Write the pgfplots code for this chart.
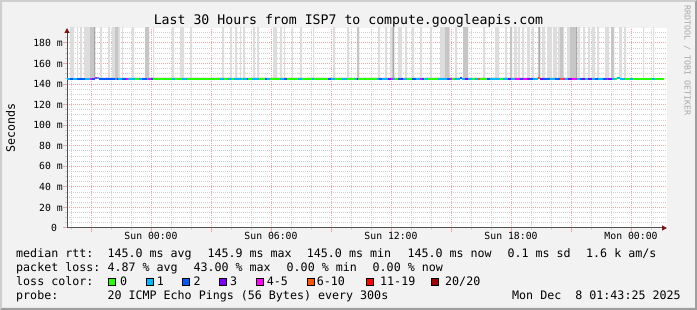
\documentclass[border=0pt]{standalone}
\usepackage{pgfplots}
\pgfplotsset{compat=1.18}
\usepackage{fontspec}
\setmainfont{DejaVu Sans Mono}
\setmonofont{DejaVu Sans Mono}
\usetikzlibrary{arrows.meta}
\definecolor{bgc}{HTML}{F2F2F2}
\definecolor{shadeA}{HTML}{CFCFCF}
\definecolor{shadeB}{HTML}{9E9E9E}
\definecolor{gridmin}{HTML}{D0D0D0}
\definecolor{gridmaj}{HTML}{EBA6A6}
\definecolor{arrowred}{HTML}{7F1515}
\definecolor{axisc}{HTML}{505050}
\definecolor{smokeL}{HTML}{DDDDDD}
\definecolor{smokeD}{HTML}{C6C6C6}
\definecolor{smokeX}{HTML}{A8A8A8}
\definecolor{lc0}{HTML}{26FF00}
\definecolor{lc1}{HTML}{00B8FF}
\definecolor{lc2}{HTML}{0059FF}
\definecolor{lc3}{HTML}{7E00FF}
\definecolor{lc4}{HTML}{FF00FF}
\definecolor{lc6}{HTML}{FF5500}
\definecolor{lc11}{HTML}{FF0000}
\definecolor{lc20}{HTML}{A10000}
\definecolor{rrdtxt}{HTML}{A8A8A8}
\newcommand{\lgfont}{\fontsize{11.66}{13}\selectfont}
\newcommand{\tkfont}{\fontsize{9.8}{11}\selectfont}
\begin{document}
\begin{tikzpicture}[x=1pt,y=1pt]
\fill[bgc] (0,0) rectangle (697,310);
\fill[shadeA] (0,0) -- (0,310) -- (697,310) -- (695,308) -- (2,308) -- (2,2) -- cycle;
\fill[shadeB] (0,0) -- (697,0) -- (697,310) -- (695,308) -- (695,2) -- (2,2) -- cycle;
\begin{axis}[
  at={(67pt,82pt)}, anchor=south west, scale only axis,
  width=600pt, height=200pt,
  xmin=-4.2, xmax=25.8, ymin=0, ymax=194.6,
  enlargelimits=false,
  axis x line=bottom, axis y line=left,
  axis line style={axisc, line width=1pt, -{Triangle[width=5pt,length=5pt,color=arrowred]}},
  axis background/.style={fill=white},
  xtick={-3,0,3,6,9,12,15,18,21,24},
  xticklabels={,Sun 00:00,,Sun 06:00,,Sun 12:00,,Sun 18:00,,Mon 00:00},
  minor xtick={-4,-3,...,25},
  ytick={0,20,...,180},
  yticklabels={0\phantom{m},20 m,40 m,60 m,80 m,100 m,120 m,140 m,160 m,180 m},
  minor ytick={5,10,...,190},
  grid=both,
  major grid style={gridmaj, dash pattern=on 1pt off 1pt, line width=1pt},
  minor grid style={gridmin, dash pattern=on 1pt off 1pt, line width=1pt},
  tick align=outside, major tick length=4pt, minor tick length=2pt,
  major tick style={gridmaj, line width=1pt},
  minor tick style={gridmin, line width=1pt},
  xticklabel style={font=\tkfont, inner sep=0pt, anchor=north},
  yticklabel style={font=\tkfont, inner sep=0pt, anchor=east},
]
% smoke (spread of the 20 pings), step function of smoke top
\addplot[const plot, fill=smokeL, draw=none] coordinates {
(-4.05,146)(-4.05,200)(-3.85,146)(-3.7,200)(-3.65,146)(-3.55,200)(-3.45,146)(-3.35,200)(-2.8,146)(-2.55,200)(-2.45,146)(-2.15,200)(-2.05,146)(-1.95,200)(-1.55,146)(-1.45,200)(-1.4,146)(-0.95,200)(-0.85,146)(-0.3,200)(-0.1,146)(0.1,200)(0.15,146)(1.05,200)(1.15,146)(1.45,200)(1.65,146)(1.95,200)(2.05,146)(3.55,200)(3.65,146)(3.95,200)(4.05,146)(4.2,200)(4.3,146)(4.45,200)(4.5,146)(4.6,200)(4.7,146)(5.1,200)(5.2,146)(5.3,200)(5.4,146)(6.1,200)(6.3,146)(6.45,200)(6.55,146)(6.65,200)(6.7,146)(7.05,200)(7.1,146)(7.45,200)(7.55,146)(8.1,200)(8.15,146)(9.1,200)(9.2,146)(9.8,200)(9.9,146)(10.3,200)(10.4,146)(11.35,200)(11.45,146)(11.7,200)(11.8,146)(11.95,200)(12.15,146)(12.35,200)(12.55,146)(12.7,200)(12.8,146)(13.05,200)(13.15,146)(13.45,200)(13.55,146)(13.95,200)(14.05,146)(14.45,200)(14.95,146)(15.2,200)(15.3,146)(15.6,200)(15.85,146)(16.6,200)(16.7,146)(17.2,200)(17.4,146)(17.7,200)(17.8,146)(17.95,200)(18.05,146)(18.15,200)(18.3,146)(18.35,200)(18.45,146)(18.55,200)(18.65,146)(18.8,200)(18.95,146)(19.05,200)(19.15,146)(19.35,200)(19.45,146)(19.55,200)(19.7,146)(19.8,200)(20.05,146)(20.1,200)(20.3,146)(20.35,200)(20.65,146)(20.8,200)(21.3,146)(21.35,200)(21.45,146)(21.6,200)(21.7,146)(21.85,200)(21.95,146)(22.05,200)(22.2,146)(22.3,200)(22.4,146)(22.7,200)(22.9,146)(23.0,200)(23.15,146)(23.4,200)(23.55,146)(23.65,200)(23.75,146)(24.6,200)(24.65,146)(25.1,200)(25.15,146)
};
\addplot[const plot, fill=smokeD, draw=none] coordinates {
(-3.05,146)(-3.05,200)(-2.8,146)(-1.8,200)(-1.65,146)(-0.3,200)(-0.1,146)(10.3,200)(10.4,146)(12.05,200)(12.15,146)(14.7,200)(14.9,146)(15.6,200)(15.85,146)(17.95,200)(18.05,146)(19.35,200)(19.45,146)(20.45,200)(20.6,146)(20.95,200)(21.3,146)(23.0,200)(23.15,146)
};
\addplot[const plot, fill=smokeX, draw=none] coordinates {
(-2.85,146)(-2.85,200)(-2.8,146)(12.1,200)(12.15,146)(19.4,200)(19.45,146)(21.25,200)(21.3,146)
};
% median rtt, coloured by packet loss
\addplot[lc0, line width=2pt, unbounded coords=jump] coordinates {
(-0.8,145)(-0.6,145)(-0.6,nan)
(0.1,145)(1.05,145)(1.05,nan)
(1.2,145)(1.55,145)(1.55,nan)
(1.8,145)(3.45,145)(3.45,nan)
(3.65,145)(3.85,145)(3.85,nan)
(4.05,145)(4.15,145)(4.15,nan)
(4.55,145)(4.6,145)(4.6,nan)
(4.85,145)(5.05,145)(5.05,nan)
(5.4,145)(5.7,145)(5.7,nan)
(5.95,145)(6.45,145)(6.45,nan)
(6.8,145)(7.35,145)(7.35,nan)
(7.55,145)(8.05,145)(8.05,nan)
(8.15,145)(8.85,145)(8.85,nan)
(9.2,145)(9.55,145)(9.55,nan)
(9.8,145)(10.2,145)(10.2,nan)
(10.35,145)(11.3,145)(11.3,nan)
(12.2,145)(12.35,145)(12.35,nan)
(12.8,145)(13.05,145)(13.05,nan)
(13.65,145)(13.7,145)(13.7,nan)
(13.85,145)(14.35,145)(14.35,nan)
(15.05,145)(15.2,145)(15.2,nan)
(16.05,145)(16.2,145)(16.2,nan)
(16.45,145)(16.8,145)(16.8,nan)
(17.45,145)(17.6,145)(17.6,nan)
(23.2,145)(23.3,145)(23.3,nan)
(23.7,145)(23.95,145)(23.95,nan)
(24.1,145)(25.05,145)(25.05,nan)
(25.2,145)(25.65,145)
};
\addplot[lc1, line width=2pt, unbounded coords=jump] coordinates {
(-4.2,145)(-4.05,145)(-4.05,nan)
(-3.9,145)(-3.7,145)(-3.7,nan)
(-3.3,145)(-3.05,145)(-3.05,nan)
(-2.7,146)(-2.6,146)(-2.6,nan)
(-1.8,145)(-1.7,145)(-1.7,nan)
(-1.65,145)(-1.45,145)(-1.45,nan)
(-1.15,145)(-0.8,145)(-0.8,nan)
(-0.6,145)(-0.45,145)(-0.45,nan)
(-0.2,145)(-0.15,145)(-0.15,nan)
(1.05,145)(1.2,145)(1.2,nan)
(1.55,145)(1.8,145)(1.8,nan)
(3.45,145)(3.65,145)(3.65,nan)
(3.85,145)(4.05,145)(4.05,nan)
(4.15,145)(4.55,145)(4.55,nan)
(4.6,145)(4.8,145)(4.8,nan)
(5.05,145)(5.4,145)(5.4,nan)
(5.8,145)(5.95,145)(5.95,nan)
(6.45,145)(6.65,145)(6.65,nan)
(7.35,145)(7.55,145)(7.55,nan)
(8.05,145)(8.15,145)(8.15,nan)
(9.0,145)(9.2,145)(9.2,nan)
(9.55,145)(9.8,145)(9.8,nan)
(10.2,145)(10.3,145)(10.3,nan)
(11.3,145)(11.4,145)(11.4,nan)
(11.55,145)(11.85,145)(11.85,nan)
(12.1,145)(12.2,145)(12.2,nan)
(12.6,145)(12.8,145)(12.8,nan)
(13.25,145)(13.45,145)(13.45,nan)
(13.7,145)(13.85,145)(13.85,nan)
(14.35,145)(14.8,145)(14.8,nan)
(15.2,145)(15.45,145)(15.45,nan)
(15.55,145)(15.7,145)(15.7,nan)
(15.85,145)(16.05,145)(16.05,nan)
(16.2,145)(16.35,145)(16.35,nan)
(16.95,145)(17.45,145)(17.45,nan)
(17.6,145)(17.85,145)(17.85,nan)
(18.0,145)(18.2,145)(18.2,nan)
(19.1,145)(19.35,145)(19.35,nan)
(19.95,145)(20.2,145)(20.2,nan)
(20.7,145)(20.85,145)(20.85,nan)
(21.3,145)(21.45,145)(21.45,nan)
(21.7,145)(21.85,145)(21.85,nan)
(22.05,145)(22.2,145)(22.2,nan)
(22.35,145)(22.6,145)(22.6,nan)
(23.05,145)(23.2,145)(23.2,nan)
(23.3,146)(23.45,146)(23.45,nan)
(23.45,145)(23.7,145)(23.7,nan)
(23.95,145)(24.1,145)(24.1,nan)
(25.05,145)(25.2,145)
};
\addplot[lc2, line width=2pt, unbounded coords=jump] coordinates {
(-4.05,145)(-3.9,145)(-3.9,nan)
(-3.7,145)(-3.3,145)(-3.3,nan)
(-2.95,145)(-2.8,145)(-2.8,nan)
(-2.6,145)(-1.8,145)(-1.8,nan)
(-1.45,145)(-1.25,145)(-1.25,nan)
(-0.45,145)(-0.2,145)(-0.2,nan)
(0,145)(0.1,145)(0.1,nan)
(4.8,145)(4.85,145)(4.85,nan)
(5.7,145)(5.8,145)(5.8,nan)
(6.65,145)(6.8,145)(6.8,nan)
(8.85,145)(9.0,145)(9.0,nan)
(11.4,145)(11.55,145)(11.55,nan)
(12.35,145)(12.5,145)(12.5,nan)
(13.05,145)(13.25,145)(13.25,nan)
(13.55,145)(13.65,145)(13.65,nan)
(14.8,145)(14.95,145)(14.95,nan)
(15.45,146)(15.55,146)(15.55,nan)
(16.8,145)(16.95,145)(16.95,nan)
(18.45,145)(18.6,145)(18.6,nan)
(18.95,145)(19.1,145)(19.1,nan)
(19.6,145)(19.95,145)(19.95,nan)
(20.2,145)(20.45,145)(20.45,nan)
(21.45,145)(21.55,145)(21.55,nan)
(22.2,145)(22.35,145)(22.35,nan)
(22.6,145)(22.8,145)
};
\addplot[lc3, line width=2pt, unbounded coords=jump] coordinates {
(-1.7,145)(-1.65,145)(-1.65,nan)
(10.3,145)(10.35,145)(10.35,nan)
(11.85,145)(12.0,145)(12.0,nan)
(12.5,145)(12.6,145)(12.6,nan)
(15.7,145)(15.85,145)(15.85,nan)
(17.85,145)(18.0,145)(18.0,nan)
(18.8,145)(18.95,145)(18.95,nan)
(19.45,145)(19.6,145)(19.6,nan)
(20.85,145)(21.05,145)(21.05,nan)
(21.55,145)(21.7,145)(21.7,nan)
(21.85,145)(22.05,145)(22.05,nan)
(22.85,145)(23.05,145)
};
\addplot[lc4, line width=2pt, unbounded coords=jump] coordinates {
(-3.05,145)(-2.95,145)(-2.95,nan)
(-2.8,146)(-2.7,146)(-2.7,nan)
(-1.25,145)(-1.15,145)(-1.15,nan)
(-0.15,145)(0,145)(0,nan)
(12.0,145)(12.1,145)(12.1,nan)
(13.45,145)(13.55,145)(13.55,nan)
(14.95,145)(15.05,145)(15.05,nan)
(18.2,145)(18.45,145)(18.45,nan)
(18.6,145)(18.8,145)(18.8,nan)
(20.6,145)(20.7,145)(20.7,nan)
(21.05,145)(21.3,145)(21.3,nan)
(22.8,145)(22.85,145)
};
\addplot[lc6, line width=2pt, unbounded coords=jump] coordinates {
(16.35,145)(16.45,145)(16.45,nan)
(19.35,146)(19.45,146)(19.45,nan)
(20.45,145)(20.6,145)
};
\end{axis}
% title and labels
\node[anchor=base, inner sep=0pt, font=\fontsize{13.2}{15}\selectfont] at (348.5,285.5) {Last 30 Hours from ISP7 to compute.googleapis.com};
\node[anchor=base, rotate=90, inner sep=0pt, font=\lgfont] at (15,182) {Seconds};
\node[anchor=base west, rotate=-90, inner sep=0pt, text=rrdtxt, font=\fontsize{8.3}{9}\selectfont] at (684.5,305) {RRDTOOL / TOBI OETIKER};
% legend
\begin{scope}[every node/.style={anchor=base west, inner sep=0pt, font=\lgfont}]
\node at (16,52) {median rtt:};
\node at (107.3,52) {145.0 ms avg};
\node at (207.3,52) {145.9 ms max};
\node at (306.7,52) {145.0 ms min};
\node at (407.3,52) {145.0 ms now};
\node at (507.3,52) {0.1 ms sd};
\node at (586,52) {1.6 k am/s};
\node at (16,38.2) {packet loss:};
\node at (107.3,38.2) {4.87 \% avg};
\node at (193.3,38.2) {43.00 \% max};
\node at (286.5,38.2) {0.00 \% min};
\node at (372.5,38.2) {0.00 \% now};
\node at (16,24.4) {loss color:};
\node at (120,24.4) {0};
\node at (156.7,24.4) {1};
\node at (193.3,24.4) {2};
\node at (230,24.4) {3};
\node at (266.7,24.4) {4-5};
\node at (316.7,24.4) {6-10};
\node at (380,24.4) {11-19};
\node at (445,24.4) {20/20};
\node at (16,10.6) {probe:};
\node at (107.3,10.6) {20 ICMP Echo Pings (56 Bytes) every 300s};
\node at (512,10.6) {Mon Dec~~8 01:43:25 2025};
\end{scope}
\begin{scope}[line width=0.8pt, draw=black]
\filldraw[fill=lc0] (108.7,24.6) rectangle (115.8,31.7);
\filldraw[fill=lc1] (146.1,24.6) rectangle (153.2,31.7);
\filldraw[fill=lc2] (182.7,24.6) rectangle (189.8,31.7);
\filldraw[fill=lc3] (219.7,24.6) rectangle (226.8,31.7);
\filldraw[fill=lc4] (256.4,24.6) rectangle (263.5,31.7);
\filldraw[fill=lc6] (307.1,24.6) rectangle (314.2,31.7);
\filldraw[fill=lc11] (366.1,24.6) rectangle (373.2,31.7);
\filldraw[fill=lc20] (431.4,24.6) rectangle (438.5,31.7);
\end{scope}
\end{tikzpicture}
\end{document}
